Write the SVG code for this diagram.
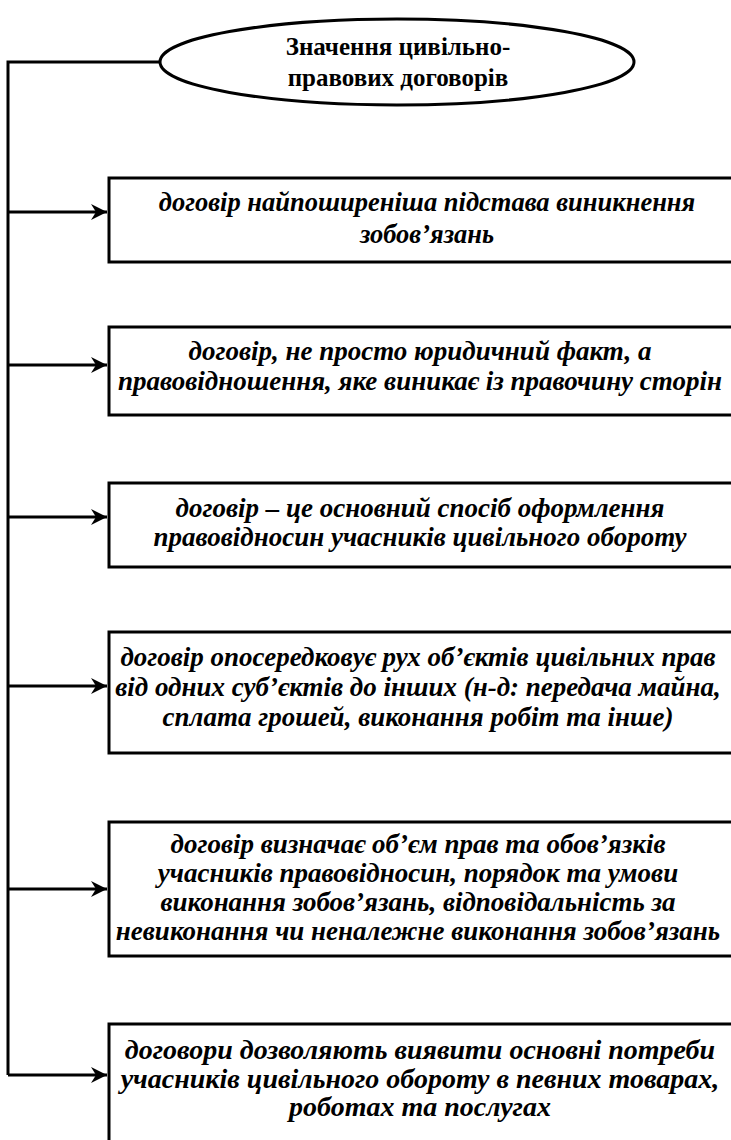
<svg xmlns="http://www.w3.org/2000/svg" width="731" height="1140" viewBox="0 0 731 1140">
  <defs>
    <marker id="arr" markerWidth="18" markerHeight="18" refX="16" refY="8" orient="auto" markerUnits="userSpaceOnUse">
      <path d="M0,0 L16,8 L0,16 L5,8 Z" fill="#000"/>
    </marker>
    <style>
      .box { fill: #fff; stroke: #000; stroke-width: 3; }
      .conn { fill: none; stroke: #000; stroke-width: 3; }
      .t { font-family: "Liberation Serif", "Times New Roman", serif; font-size: 27px; font-weight: bold; font-style: italic; text-anchor: middle; fill: #000; }
      .h { font-family: "Liberation Serif", "Times New Roman", serif; font-size: 25px; font-weight: bold; text-anchor: middle; fill: #000; }
    </style>
  </defs>
  <rect width="731" height="1140" fill="#fff"/>
  <g id="connectors">
    <polyline class="conn" points="160,62 8,62 8,1075"/>
    <line class="conn" x1="8" y1="212" x2="107" y2="212" marker-end="url(#arr)"/>
    <line class="conn" x1="8" y1="365" x2="107" y2="365" marker-end="url(#arr)"/>
    <line class="conn" x1="8" y1="517" x2="107" y2="517" marker-end="url(#arr)"/>
    <line class="conn" x1="8" y1="686" x2="107" y2="686" marker-end="url(#arr)"/>
    <line class="conn" x1="8" y1="889" x2="107" y2="889" marker-end="url(#arr)"/>
    <line class="conn" x1="8" y1="1075" x2="107" y2="1075" marker-end="url(#arr)"/>
  </g>
  <g id="title">
    <ellipse cx="397" cy="62" rx="237" ry="43" fill="#fff" stroke="#000" stroke-width="3"/>
    <text class="h" x="398" y="55">Значення цивільно-</text>
    <text class="h" x="398" y="86">правових договорів</text>
  </g>
  <g id="n1">
    <rect class="box" x="109" y="178" width="640" height="84"/>
    <text class="t" x="427" y="211" style="font-size:26.5px">договір найпоширеніша підстава виникнення</text>
    <text class="t" x="427" y="243" style="font-size:26.5px">зобов’язань</text>
  </g>
  <g id="n2">
    <rect class="box" x="109" y="327" width="640" height="88"/>
    <text class="t" x="420" y="360">договір, не просто юридичний факт, а</text>
    <text class="t" x="420" y="390">правовідношення, яке виникає із правочину сторін</text>
  </g>
  <g id="n3">
    <rect class="box" x="109" y="483" width="640" height="84"/>
    <text class="t" x="420" y="517">договір – це основний спосіб оформлення</text>
    <text class="t" x="420" y="546">правовідносин учасників цивільного обороту</text>
  </g>
  <g id="n4">
    <rect class="box" x="109" y="632" width="640" height="121"/>
    <text class="t" x="418" y="666">договір опосередковує рух об’єктів цивільних прав</text>
    <text class="t" x="418" y="696">від одних суб’єктів до інших (н-д: передача майна,</text>
    <text class="t" x="418" y="726">сплата грошей, виконання робіт та інше)</text>
  </g>
  <g id="n5">
    <rect class="box" x="109" y="822" width="640" height="134"/>
    <text class="t" x="418" y="853">договір визначає об’єм прав та обов’язків</text>
    <text class="t" x="418" y="882">учасників правовідносин, порядок та умови</text>
    <text class="t" x="418" y="911">виконання зобов’язань, відповідальність за</text>
    <text class="t" x="418" y="940">невиконання чи неналежне виконання зобов’язань</text>
  </g>
  <g id="n6">
    <rect class="box" x="109" y="1024" width="640" height="140"/>
    <text class="t" x="420" y="1059" style="font-size:28px">договори дозволяють виявити основні потреби</text>
    <text class="t" x="420" y="1088" style="font-size:28px">учасників цивільного обороту в певних товарах,</text>
    <text class="t" x="420" y="1116" style="font-size:28px">роботах та послугах</text>
  </g>
</svg>
